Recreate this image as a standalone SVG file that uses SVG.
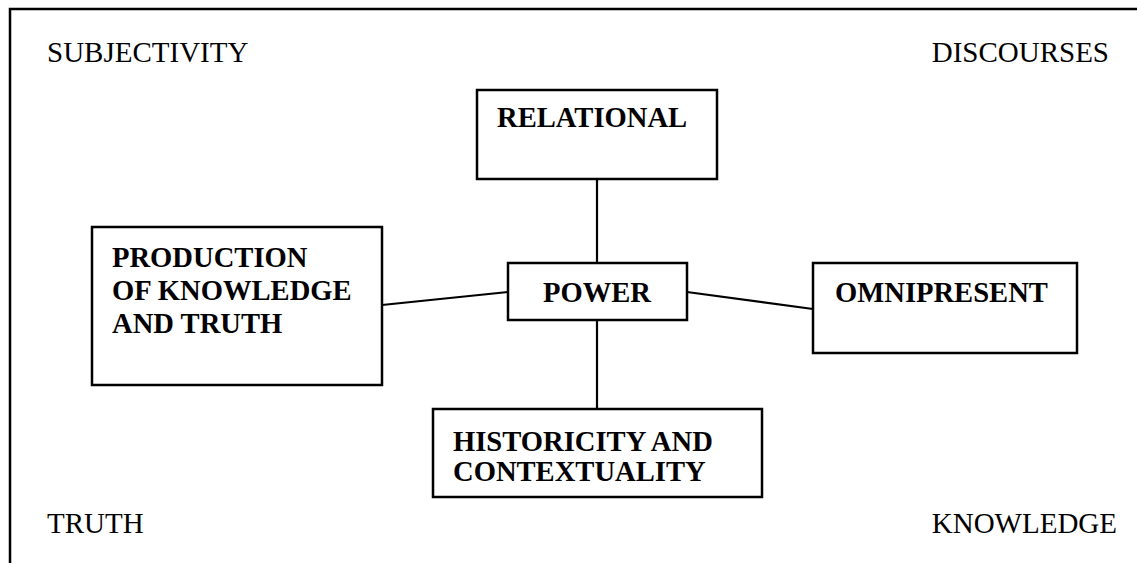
<svg xmlns="http://www.w3.org/2000/svg" width="1137" height="563" viewBox="0 0 1137 563">
  <style>
    .frame { fill: none; stroke: #000; stroke-width: 2.5; }
    .box { fill: #fff; stroke: #000; stroke-width: 2.5; }
    .link { fill: none; stroke: #000; stroke-width: 2.2; }
    .label { font-family: "Liberation Serif", "Times New Roman", serif; font-size: 28.6px; fill: #000; }
    .corner { font-family: "Liberation Serif", "Times New Roman", serif; font-size: 29px; fill: #000; }
    .bold { font-weight: bold; }
  </style>
  <rect width="1137" height="563" fill="#fff"/>

  <!-- outer frame (top and left edges) -->
  <path class="frame" d="M10,565 L10,9 L1140,9"/>

  <!-- corner concepts -->
  <text class="corner" x="47" y="62">SUBJECTIVITY</text>
  <text class="corner" x="1109" y="62" text-anchor="end">DISCOURSES</text>
  <text class="corner" x="47" y="533">TRUTH</text>
  <text class="corner" x="1117" y="533" text-anchor="end">KNOWLEDGE</text>

  <!-- connectors between POWER and its attributes -->
  <g id="connectors">
    <line class="link" x1="597" y1="179" x2="597" y2="263"/>
    <line class="link" x1="597" y1="320" x2="597" y2="409"/>
    <line class="link" x1="382" y1="305" x2="508" y2="292"/>
    <line class="link" x1="687" y1="292" x2="813" y2="309"/>
  </g>

  <g id="relational">
    <rect class="box" x="477" y="90" width="240" height="89"/>
    <text class="label bold" x="497" y="127">RELATIONAL</text>
  </g>

  <g id="power">
    <rect class="box" x="508" y="263" width="179" height="57"/>
    <text class="label bold" x="597" y="302" text-anchor="middle">POWER</text>
  </g>

  <g id="production">
    <rect class="box" x="92" y="227" width="290" height="158"/>
    <text class="label bold" x="112" y="267">PRODUCTION</text>
    <text class="label bold" x="112" y="300">OF KNOWLEDGE</text>
    <text class="label bold" x="112" y="333">AND TRUTH</text>
  </g>

  <g id="omnipresent">
    <rect class="box" x="813" y="263" width="264" height="90"/>
    <text class="label bold" x="835" y="302">OMNIPRESENT</text>
  </g>

  <g id="historicity">
    <rect class="box" x="433" y="409" width="329" height="88"/>
    <text class="label bold" x="453" y="451">HISTORICITY AND</text>
    <text class="label bold" x="453" y="481">CONTEXTUALITY</text>
  </g>
</svg>
